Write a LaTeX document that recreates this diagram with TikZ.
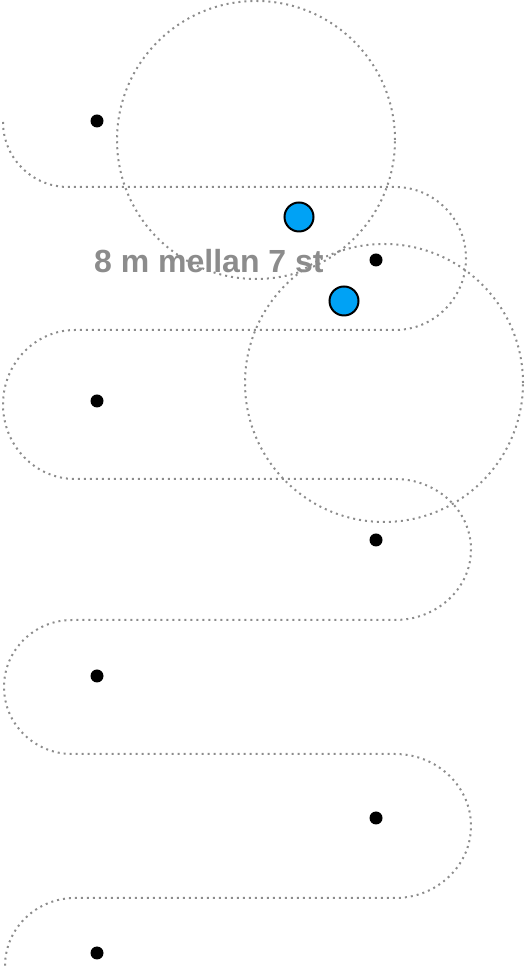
\documentclass[tikz,border=0pt]{standalone}
\usepackage{fontspec}
\setmainfont{Liberation Sans}
\usepackage{tikz}
\usetikzlibrary{positioning}
\definecolor{pgray}{RGB}{140, 140, 140}
\definecolor{pblue}{RGB}{0, 162, 245}

\begin{document}
\begin{tikzpicture}[x=1pt, y=1pt,
    track/.style={pgray, line width=2pt, dash pattern=on 2pt off 4pt},
    post/.style={circle, fill=black, inner sep=0pt, minimum size=13pt},
    reach/.style={circle, draw, track, inner sep=0pt, minimum size=278pt},
    light/.style={circle, draw=black, fill=pblue, line width=2pt, inner sep=0pt, minimum size=29pt}]
    \useasboundingbox (0,0) rectangle (525,966);

    % --- label ---
    \node[pgray, font=\fontsize{32}{38}\selectfont\bfseries, anchor=base west, inner sep=0pt]
          (lbl) at (94,693) {8 m mellan 7 st};

    % --- path ---
    \draw[track] (3,844) arc[start angle=180, end angle=270, radius=65]
          -- (395,779) arc[start angle=90, end angle=-90, x radius=71, y radius=71.5]
          -- (75,636)  arc[start angle=90, end angle=270, x radius=72, y radius=74.5]
          -- (395,487) arc[start angle=90, end angle=-90, x radius=76, y radius=70.5]
          -- (72,346)  arc[start angle=90, end angle=270, x radius=68, y radius=67]
          -- (395,212) arc[start angle=90, end angle=-90, x radius=76, y radius=72]
          -- (75,68)   arc[start angle=90, end angle=180, x radius=70, y radius=68];

    % --- posts ---
    \node[post] (p1) at (97,845) {};
    \node[post] (p2) at (376,706) {};
    \node[post] (p3) at (97,565) {};
    \node[post] (p4) at (376,426) {};
    \node[post] (p5) at (97,290) {};
    \node[post] (p6) at (376,148) {};
    \node[post] (p7) at (97,13) {};

    % --- reach ---
    \node[reach] (r1) at (256,826) {};
    \node[reach] (r2) at (384,583) {};

    % --- lights ---
    \node[light] (l1) at (299,749) {};
    \node[light] (l2) at (344,665) {};
\end{tikzpicture}
\end{document}
